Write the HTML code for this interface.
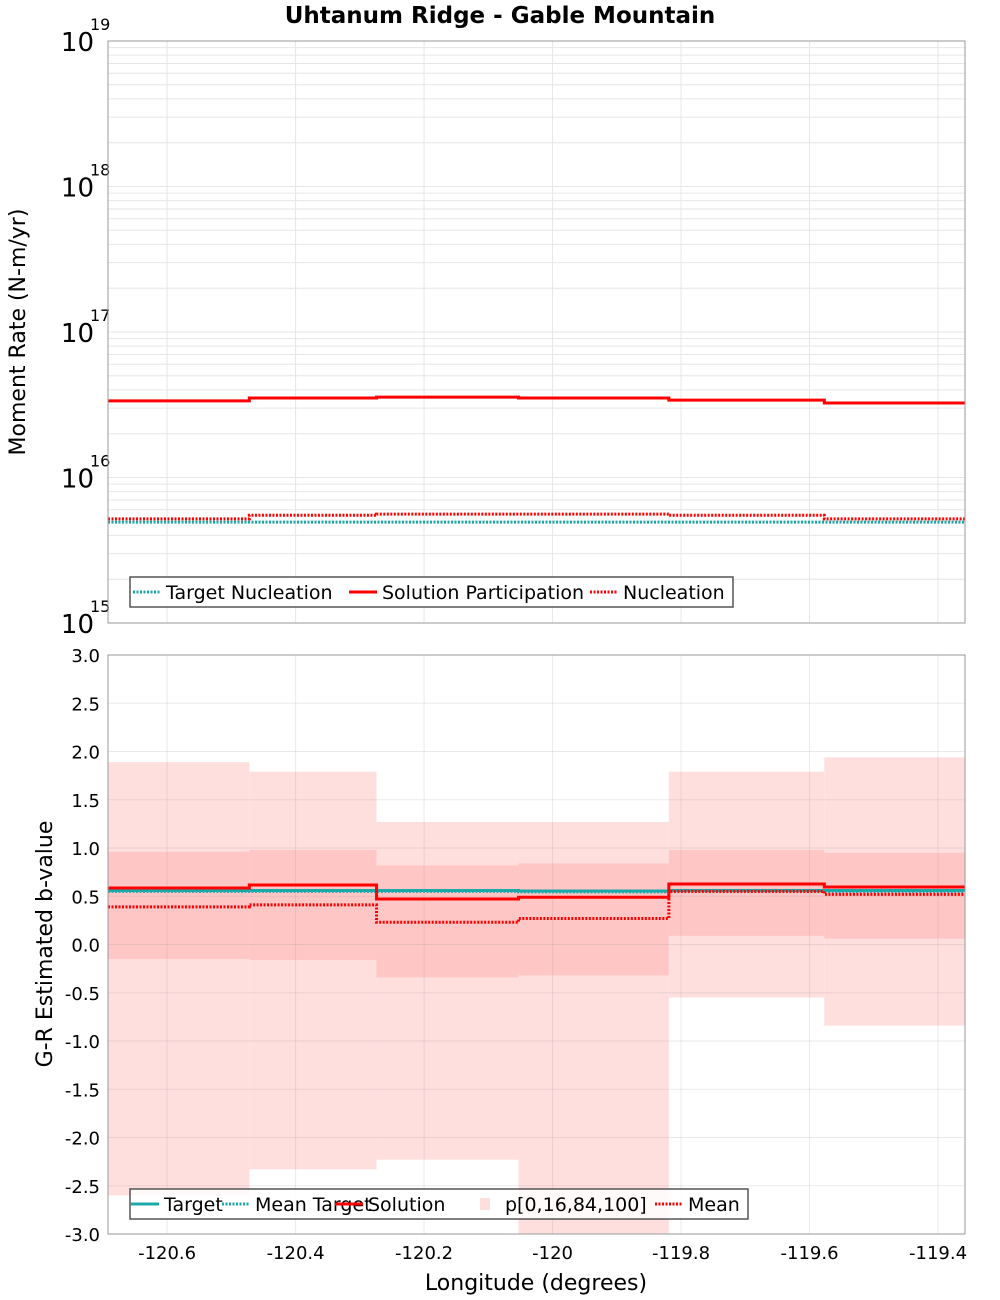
<!DOCTYPE html>
<html><head><meta charset="utf-8"><style>
body{margin:0;background:#fff;}
svg{display:block;font-family:"DejaVu Sans","Liberation Sans",sans-serif;}
</style></head><body>
<svg id="chart" width="1000" height="1300" xmlns="http://www.w3.org/2000/svg">
<text x="500" y="23" text-anchor="middle" font-size="23" font-weight="bold">Uhtanum Ridge - Gable Mountain</text>
<g id="topPanel"></g>
<g id="botPanel"></g>
<text transform="translate(25,332) rotate(-90)" text-anchor="middle" font-size="22">Moment Rate (N-m/yr)</text>
<text transform="translate(52,944) rotate(-90)" text-anchor="middle" font-size="22">G-R Estimated b-value</text>
<text x="536" y="1290" text-anchor="middle" font-size="22">Longitude (degrees)</text>
</svg>
<script>
const binEdges = [-120.692, -120.472, -120.274, -120.053, -119.819, -119.577, -119.358];
const solutionMoment = [3.36e16, 3.52e16, 3.57e16, 3.52e16, 3.40e16, 3.25e16];
const nucleationMoment = [5.2e15, 5.5e15, 5.6e15, 5.6e15, 5.5e15, 5.2e15];
const targetNucleation = [4.94e15, 4.94e15, 4.94e15, 4.94e15, 4.94e15, 4.94e15];
const bTarget = [0.56, 0.56, 0.56, 0.555, 0.56, 0.56];
const bMeanTarget = [0.55, 0.55, 0.55, 0.545, 0.55, 0.55];
const bSolution = [0.585, 0.617, 0.472, 0.49, 0.627, 0.596];
const bMean = [0.39, 0.41, 0.23, 0.27, 0.55, 0.52];
const p0 = [-2.6, -2.33, -2.23, -3.2, -0.55, -0.84];
const p16 = [-0.15, -0.16, -0.34, -0.32, 0.09, 0.06];
const p84 = [0.96, 0.98, 0.82, 0.84, 0.98, 0.95];
const p100 = [1.89, 1.79, 1.27, 1.27, 1.79, 1.94];
const xTicks = [-120.6, -120.4, -120.2, -120, -119.8, -119.6, -119.4];
const xTickLabels = ["-120.6", "-120.4", "-120.2", "-120", "-119.8", "-119.6", "-119.4"];
const bTicks = [3.0, 2.5, 2.0, 1.5, 1.0, 0.5, 0.0, -0.5, -1.0, -1.5, -2.0, -2.5, -3.0];
const logTicks = [15, 16, 17, 18, 19];

const NS = "http://www.w3.org/2000/svg";
const L = 108, R = 965;
const T1 = 41, B1 = 623, T2 = 655, B2 = 1234;
const xmin = -120.692, xmax = -119.358;
function X(v){ return L + (v - xmin) / (xmax - xmin) * (R - L); }
function Ylog(v){ return B1 - (Math.log10(v) - 15) / 4 * (B1 - T1); }
function Yb(v){ return T2 + (3 - v) / 6 * (B2 - T2); }
function mk(parent, tag, attrs){ const e = document.createElementNS(NS, tag); for (const k in attrs) e.setAttribute(k, attrs[k]); parent.appendChild(e); return e; }

const topG = document.getElementById('topPanel'), botG = document.getElementById('botPanel');
const defs = mk(document.getElementById('chart'), 'defs', {});
const c1 = mk(defs, 'clipPath', {id:'c1'}); mk(c1, 'rect', {x:L, y:T1, width:R-L, height:B1-T1});
const c2 = mk(defs, 'clipPath', {id:'c2'}); mk(c2, 'rect', {x:L, y:T2, width:R-L, height:B2-T2});

for (let d = 15; d < 19; d++) for (let m = 1; m < 10; m++) {
  const y = Ylog(m * Math.pow(10, d));
  const g = mk(topG, 'line', {x1:L, x2:R, y1:y, y2:y, stroke:'#e6e6e6', 'stroke-width':1});
  
  
}
xTicks.forEach(v => {
  const g = mk(topG, 'line', {x1:X(v), x2:X(v), y1:T1, y2:B1, stroke:'#e6e6e6', 'stroke-width':1});
  
  
});
logTicks.forEach(d => {
  const y = Ylog(Math.pow(10, d));
  const t = mk(topG, 'text', {x:94, y:y + 10, 'text-anchor':'end', 'font-size':26});
  t.textContent = '10';
  
  
  const s = mk(topG, 'text', {x:90, y:y - 11, 'font-size':16});
  s.textContent = String(d);
  
  
});

function stepPath(vals, yf){
  let d = '';
  vals.forEach((v, i) => { const y = yf(v); d += (i === 0 ? 'M' : 'L') + X(binEdges[i]) + ',' + y + 'L' + X(binEdges[i+1]) + ',' + y; });
  return d;
}
function series(parent, vals, yf, color, dash, w, name, clip){
  const p = mk(parent, 'path', {d:stepPath(vals, yf), fill:'none', stroke:color, 'stroke-width':w, 'clip-path':'url(#' + clip + ')'});
  if (dash) p.setAttribute('stroke-dasharray', dash);
  
  
}
series(topG, targetNucleation, Ylog, '#1aa8a8', '2,1.5', 3, 'target-nucleation-line', 'c1');
series(topG, nucleationMoment, Ylog, '#ff0000', '2,1.5', 3, 'nucleation-line', 'c1');
series(topG, solutionMoment, Ylog, '#ff0000', null, 3, 'solution-participation-line', 'c1');
mk(topG, 'rect', {x:L, y:T1, width:R-L, height:B1-T1, fill:'none', stroke:'#999', 'stroke-width':1});

for (let i = 0; i < 6; i++) {
  const x0 = X(binEdges[i]), x1 = X(binEdges[i+1]);
  const a = mk(botG, 'rect', {x:x0, y:Yb(p100[i]), width:x1-x0, height:Yb(p0[i]) - Yb(p100[i]), fill:'#ffdede', 'clip-path':'url(#c2)'});
  
  
  const b = mk(botG, 'rect', {x:x0, y:Yb(p84[i]), width:x1-x0, height:Yb(p16[i]) - Yb(p84[i]), fill:'#ffc6c6', 'clip-path':'url(#c2)'});
  
  
}
bTicks.forEach(v => {
  const y = Yb(v);
  const g = mk(botG, 'line', {x1:L, x2:R, y1:y, y2:y, stroke:'rgba(150,150,150,0.2)', 'stroke-width':1});
  
  
  const t = mk(botG, 'text', {x:100, y:y + 7, 'text-anchor':'end', 'font-size':18});
  t.textContent = v.toFixed(1);
  
  
});
xTicks.forEach((v, i) => {
  const g = mk(botG, 'line', {x1:X(v), x2:X(v), y1:T2, y2:B2, stroke:'rgba(150,150,150,0.2)', 'stroke-width':1});
  
  
  const t = mk(botG, 'text', {x:X(v), y:1259, 'text-anchor':'middle', 'font-size':18});
  t.textContent = xTickLabels[i];
  
  
});
series(botG, bTarget, Yb, '#1aa8a8', null, 3, 'target-line', 'c2');
series(botG, bMeanTarget, Yb, '#1aa8a8', '2,1.5', 3, 'mean-target-line', 'c2');
series(botG, bSolution, Yb, '#ff0000', null, 3, 'solution-line', 'c2');
series(botG, bMean, Yb, '#ff0000', '2,1.5', 3, 'mean-line', 'c2');
mk(botG, 'rect', {x:L, y:T2, width:R-L, height:B2-T2, fill:'none', stroke:'#999', 'stroke-width':1});

function legend(parent, x, y, w, entries, name){
  const g = mk(parent, 'g', {});
  
  
  mk(g, 'rect', {x:x, y:y, width:w, height:30, fill:'rgba(255,255,255,0.85)', stroke:'#555', 'stroke-width':1.5});
  entries.forEach(e => {
    const eg = mk(g, 'g', {});
    
    
    if (e.type === 'box') mk(eg, 'rect', {x:e.x + 8, y:y + 9, width:10, height:12, fill:'#ffdede'});
    else { const l = mk(eg, 'line', {x1:e.x, x2:e.x + 28, y1:y + 15, y2:y + 15, stroke:e.c, 'stroke-width':3}); if (e.type === 'dot') l.setAttribute('stroke-dasharray', '2,1.5'); }
    const t = mk(eg, 'text', {x:e.x + 33, y:y + 22, 'font-size':19});
    t.textContent = e.t;
  });
}
legend(topG, 130, 577, 603, [
  {x:133, c:'#1aa8a8', type:'dot', t:'Target Nucleation'},
  {x:349, c:'#ff0000', type:'line', t:'Solution Participation'},
  {x:590, c:'#ff0000', type:'dot', t:'Nucleation'}
], 'top-legend');
legend(botG, 130, 1189, 618, [
  {x:131, c:'#1aa8a8', type:'line', t:'Target'},
  {x:222, c:'#1aa8a8', type:'dot', t:'Mean Target'},
  {x:335, c:'#ff0000', type:'line', t:'Solution'},
  {x:472, c:'#ffdede', type:'box', t:'p[0,16,84,100]'},
  {x:655, c:'#ff0000', type:'dot', t:'Mean'}
], 'bottom-legend');
</script>
</body></html>
